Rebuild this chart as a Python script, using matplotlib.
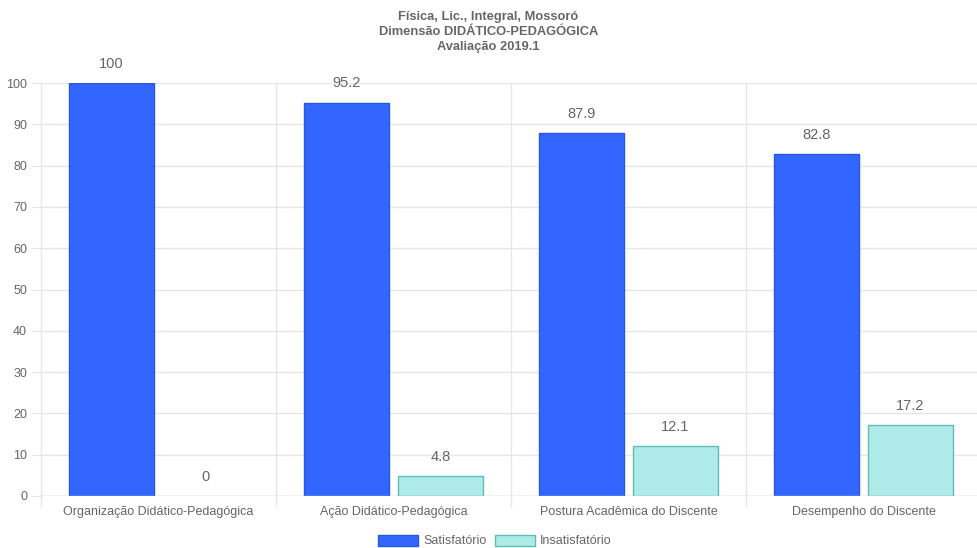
import numpy as np
import matplotlib.pyplot as plt
from matplotlib.patches import Patch

categorias = ['Organização Didático-Pedagógica', 'Ação Didático-Pedagógica',
              'Postura Acadêmica do Discente', 'Desempenho do Discente']
satisfatorio = [100, 95.2, 87.9, 82.8]
insatisfatorio = [0, 4.8, 12.1, 17.2]
titulo = 'Física, Lic., Integral, Mossoró\nDimensão DIDÁTICO-PEDAGÓGICA\nAvaliação 2019.1'

plt.rcParams['font.family'] = ['Liberation Sans', 'DejaVu Sans']
cinza = '#666666'
grade = '#e6e6e6'

fig = plt.figure(figsize=(9.77, 5.48), dpi=100)
# a area do grafico passa um pouco da borda direita
ax = fig.add_axes([41 / 977, 1 - 496 / 548, 940 / 977, 413 / 548])

x = np.arange(len(categorias))
larg = 0.36
b1 = ax.bar(x - 0.2, satisfatorio, larg, color='#3366ff', edgecolor='#2a57e0', linewidth=1, zorder=3)
b2 = ax.bar(x + 0.2, insatisfatorio, larg, color='#aeeae8', edgecolor='#5fbdb7', linewidth=1, zorder=3)

for barras, vals in ((b1, satisfatorio), (b2, insatisfatorio)):
    for r, v in zip(barras, vals):
        if v == 0:
            r.set_linewidth(0)
        ax.annotate('{:g}'.format(v), (r.get_x() + r.get_width() / 2, v),
                    xytext=(0, 14), textcoords='offset points', ha='center', va='center',
                    fontsize=10.5, color=cinza)

ax.set_xlim(-0.5, len(categorias) - 0.5)
ax.set_ylim(0, 100)
ax.set_yticks(range(0, 101, 10))
ax.set_xticks(x)
ax.set_xticklabels(categorias, fontsize=9, color=cinza)
ax.tick_params(axis='y', labelsize=9, labelcolor=cinza, color=grade, length=7, pad=3)
ax.tick_params(axis='x', length=0, pad=7)

# linhas de grade verticais entre categorias
for xv in np.arange(-0.5, len(categorias), 1.0):
    ax.axvline(xv, color=grade, linewidth=1, zorder=0, clip_on=False, ymin=-0.025)
ax.yaxis.grid(True, color=grade, linewidth=1, zorder=0)
for s in ax.spines.values():
    s.set_visible(False)
ax.axhline(0, color='#cccccc', linewidth=1, zorder=4)

fig.text(0.5, 1 - 32 / 548, titulo, ha='center', va='center', fontsize=9.3,
         fontweight='bold', color=cinza, linespacing=1.3)

handles = [Patch(facecolor='#3366ff', edgecolor='#2a57e0'),
           Patch(facecolor='#aeeae8', edgecolor='#5fbdb7')]
fig.legend(handles, ['Satisfatório', 'Insatisfatório'], loc='center',
           bbox_to_anchor=(495 / 977, 1 - 541 / 548), ncol=2, frameon=False, fontsize=9,
           labelcolor=cinza, handlelength=3.2, handleheight=1.0, handletextpad=0.4,
           columnspacing=0.7)

fig.savefig('out.png', dpi=100)
